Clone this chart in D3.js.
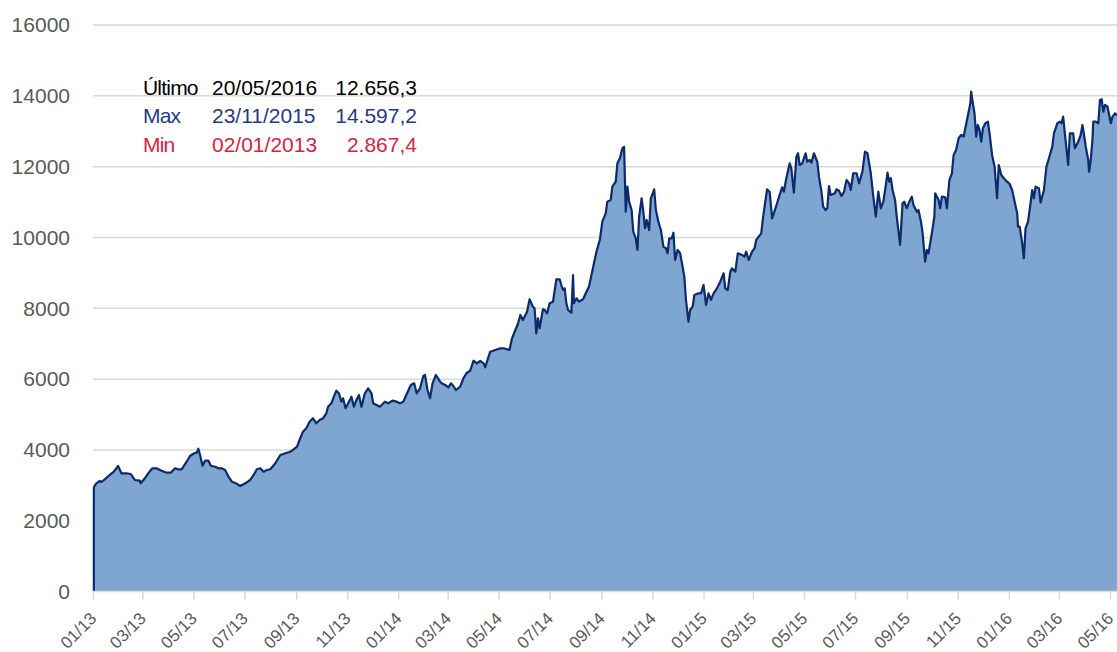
<!DOCTYPE html>
<html>
<head>
<meta charset="utf-8">
<script src="https://cdn.jsdelivr.net/npm/d3@7"></script>
<style>
    body { margin: 0; background: #fff; }
    svg { display: block; font-family: "Liberation Sans", Arial, sans-serif; }
</style>
</head>
<body>
<script>

// days counted from 01/01/2013
var dayOffsets = [
    1, 4, 8, 10, 14, 20, 25, 30, 34, 40,
    45, 50, 56, 57, 62, 66, 71, 76, 82, 88,
    93, 98, 102, 106, 112, 116, 121, 124, 126, 128,
    131, 134, 138, 141, 146, 150, 154, 158, 162, 166,
    171, 176, 182, 188, 192, 196, 200, 204, 208, 212,
    218, 224, 230, 236, 239, 244, 247, 251, 255, 259,
    263, 267, 271, 275, 279, 281, 285, 288, 291, 294,
    297, 299, 302, 306, 309, 312, 315, 318, 321, 325,
    329, 333, 335, 339, 343, 349, 353, 358, 363, 367,
    371, 375, 380, 384, 387, 391, 395, 397, 400, 403,
    406, 410, 415,
    417, 421, 425, 428, 431, 434, 439, 443, 447, 451,
    455, 459, 463, 467, 469, 471, 475, 481, 487, 491,
    495, 498, 501, 505, 508, 511, 514, 519, 522, 526,
    528, 530, 532, 534, 538, 540, 543, 546, 550, 554,
    558, 560, 562, 564, 566, 568, 572, 574, 575, 578,
    581, 586, 590, 593, 596, 599, 602,
    606, 609, 613, 615, 619, 621, 625, 627, 630, 633,
    635, 637, 639, 641, 644, 646, 649, 651, 653, 656,
    658, 660, 662, 665, 667, 671, 673, 676, 679, 682,
    685, 687, 689, 692, 694, 696, 699, 702, 705, 707,
    709, 712, 714, 717, 719, 724, 727, 730, 733, 736,
    739, 742, 746, 750, 754, 756, 759, 762, 764, 768,
    771, 776, 779, 781, 784, 788, 791, 793, 796, 799,
    801, 803, 806, 809, 812, 816, 821, 824, 826, 829,
    833, 835, 838, 841, 843, 845, 848, 852, 854, 857,
    859, 862, 866, 868, 871, 873, 876, 878, 880, 882,
    887, 889, 892, 895, 898, 901, 904, 906, 909, 913,
    916, 920, 923, 926, 928, 930, 933, 936, 939, 942,
    945, 948, 950, 952, 954, 956, 959, 961, 965, 968,
    970, 973, 976, 979, 981, 985, 987, 990, 992, 994,
    995, 997, 999, 1003, 1006, 1007, 1011, 1013, 1015, 1019,
    1021, 1024, 1027, 1029, 1032, 1035, 1038, 1041, 1043, 1047,
    1049, 1050, 1052, 1054, 1056, 1058, 1060, 1062, 1064, 1067,
    1070, 1072, 1075, 1078, 1081, 1083, 1086, 1089, 1093, 1096,
    1099, 1102, 1105, 1106, 1108, 1111, 1113, 1115, 1118, 1121,
    1123, 1125, 1127, 1131, 1133, 1137, 1140, 1143, 1147, 1149,
    1153, 1156, 1158, 1160, 1162, 1166, 1168, 1172, 1174, 1178,
    1181, 1183, 1185, 1187, 1190, 1191, 1193, 1195, 1196, 1199,
    1202, 1204, 1206, 1208, 1210, 1213, 1215, 1217, 1219, 1222,
    1224, 1235
];

var values = [
    2950, 3058, 3123, 3095, 3171, 3293, 3386, 3547, 3341, 3341,
    3321, 3152, 3132, 3058, 3200, 3341, 3482, 3482, 3414, 3358,
    3358, 3482, 3454, 3454, 3668, 3829, 3906, 3923, 4035, 3858,
    3555, 3697, 3697, 3555, 3527, 3482, 3482, 3434, 3245, 3104,
    3058, 2982, 3058, 3152, 3293, 3454, 3482, 3386, 3434, 3454,
    3623, 3858, 3906, 3951, 3999, 4092, 4281, 4516, 4612, 4798,
    4894, 4753, 4846, 4894, 5035, 5222, 5318, 5504, 5673, 5600,
    5363, 5459, 5176, 5363, 5504, 5222, 5411, 5552, 5222, 5600,
    5741, 5600, 5318, 5270, 5222, 5363, 5318, 5391, 5363, 5318,
    5363, 5572, 5834, 5882, 5600, 5741, 6089, 6117, 5693, 5459,
    5882, 6117, 5928,
    5882, 5834, 5769, 5882, 5806, 5693, 5786, 6024, 6182, 6238,
    6521, 6447, 6512, 6447, 6334, 6492, 6775, 6823, 6871, 6871,
    6843, 6823, 7153, 7388, 7557, 7811, 7670, 7904, 8255, 8046,
    8000, 7294, 7718, 7436, 7972, 7952, 7859, 8142, 8187, 8819,
    8819, 8658, 8517, 8565, 8142, 7952, 7876, 8941, 8142, 8283,
    8187, 8255, 8469, 8610, 8941, 9271, 9599,
    9929, 10446, 10683, 11011, 11059, 11434, 11576, 12095, 12236, 12519,
    12564, 10728, 11434, 11011, 10776, 10164, 9977, 9647, 10587, 11107,
    10728, 10260, 10494, 10212, 11107, 11361, 10776, 10446, 10212, 9740,
    9695, 9554, 9977, 9977, 10135, 9364, 9647, 9554, 9175, 8893,
    8235, 7622, 7952, 8046, 8376, 8424, 8424, 8658, 8094, 8424,
    8235, 8424, 8565, 8752, 8989, 8565, 8517, 9034, 9130, 9034,
    9554, 9506, 9458, 9599, 9364, 9599, 9695, 9929, 10022, 10118,
    10542, 10870, 11361, 11293, 10542, 10824, 11200, 11417, 11293, 11672,
    12095, 11954, 11265, 12282, 12378, 12047, 12095, 12378, 12140, 12188,
    12112, 12378, 12140, 11717, 11293, 10870, 10776, 10824, 11454, 11200,
    11248, 11361, 11321, 11172, 11293, 11624, 11530, 11341, 11813, 11813,
    11530, 11858, 12423, 12378, 12095, 11813, 11152, 10587, 11293, 10824,
    11011, 11482, 11830, 11576, 11672, 11341, 11059, 10587, 9788, 10966,
    11011, 10824, 11011, 11152, 10918, 10728, 10776, 10446, 10118, 9554,
    9316, 9647, 9554, 10118, 10587, 11248, 11059, 10824, 11152, 11135,
    10824, 11624, 11813, 12330, 12471, 12801, 12894, 12846, 13084, 13552,
    13790, 14117, 13790, 13507, 12846, 13177, 13036, 12705, 13084, 13225,
    13270, 12942, 12330, 11999, 11107, 12047, 11765, 11672, 11576, 11511,
    11341, 11011, 10683, 10305, 10305, 9836, 9413, 10260, 10446, 10966,
    11341, 11107, 11434, 11389, 10983, 11341, 11999, 12236, 12564, 12942,
    13225, 13270, 13225, 13411, 12942, 12047, 12942, 12942, 12519, 12705,
    12894, 13177, 12894, 12564, 12188, 11858, 12188, 12753, 13270, 13270,
    13225, 13883, 13903, 13552, 13742, 13694, 13459, 13225, 13411, 13507,
    13459, 13400
];

var yTicks = [0, 2000, 4000, 6000, 8000, 10000, 12000, 14000, 16000];

// summary box: label, date, value
var summaryLabels = ["Último", "Max", "Min"];
var summaryDates = ["20/05/2016", "23/11/2015", "02/01/2013"];
var summaryValues = ["12.656,3", "14.597,2", "2.867,4"];

var width = 1117, height = 652;
var startDate = new Date(2013, 0, 1);

var data = dayOffsets.map(function(d, i) {
    return {date: d3.timeDay.offset(startDate, d), value: values[i]};
});

var svg = d3.select("body").append("svg")
    .attr("width", width)
    .attr("height", height);

// 01/13 sits at x=93, 05/16 at x=1110; the last days run past the right edge
var xScale = d3.scaleTime()
    .domain([startDate, new Date(2016, 4, 1)])
    .range([93, 1110]);

var yScale = d3.scaleLinear()
    .domain([0, 16000])
    .range([591.6, 25]);

// gridlines
svg.append("g")
    .selectAll("line")
    .data(yTicks.filter(function(d) { return d > 0; }))
    .enter().append("line")
    .attr("x1", 93)
    .attr("x2", width)
    .attr("y1", function(d) { return yScale(d); })
    .attr("y2", function(d) { return yScale(d); })
    .attr("stroke", "#d9d9d9")
    .attr("stroke-width", 1.5);

var area = d3.area()
    .x(function(d) { return xScale(d.date); })
    .y0(yScale(0))
    .y1(function(d) { return yScale(d.value); });

var line = d3.line()
    .x(function(d) { return xScale(d.date); })
    .y(function(d) { return yScale(d.value); });

svg.append("path")
    .datum(data)
    .attr("d", area)
    .attr("fill", "#7fa6d1");

// left edge of the area is outlined too
svg.append("line")
    .attr("x1", xScale(data[0].date))
    .attr("x2", xScale(data[0].date))
    .attr("y1", yScale(0))
    .attr("y2", yScale(data[0].value))
    .attr("stroke", "#0c2a6e")
    .attr("stroke-width", 2.2);

svg.append("path")
    .datum(data)
    .attr("d", line)
    .attr("fill", "none")
    .attr("stroke", "#0c2a6e")
    .attr("stroke-width", 2.2)
    .attr("stroke-linejoin", "round");

// x axis
var xAxis = d3.axisBottom(xScale)
    .ticks(d3.timeMonth.every(2))
    .tickFormat(d3.timeFormat("%m/%y"))
    .tickSizeInner(8)
    .tickSizeOuter(0);

var gx = svg.append("g")
    .attr("transform", "translate(0," + yScale(0) + ")")
    .call(xAxis);

gx.select(".domain")
    .attr("d", "M93,0H" + width)
    .attr("stroke", "#d9d9d9")
    .attr("stroke-width", 1.5);
gx.selectAll(".tick line")
    .attr("stroke", "#d9d9d9")
    .attr("stroke-width", 1.5);
gx.selectAll(".tick text")
    .attr("fill", "#595959")
    .style("font-size", "17px")
    .attr("text-anchor", "end")
    .attr("y", 0)
    .attr("dy", 0)
    .attr("transform", "translate(4,28) rotate(-45)");

// y axis labels
svg.append("g")
    .selectAll("text")
    .data(yTicks)
    .enter().append("text")
    .attr("x", 70)
    .attr("y", function(d) { return yScale(d); })
    .attr("dy", "0.35em")
    .attr("text-anchor", "end")
    .attr("fill", "#595959")
    .style("font-size", "21px")
    .text(function(d) { return d; });

// summary box
var summaryColors = ["#000000", "#1f3a8a", "#e0203c"];

var rows = svg.append("g")
    .selectAll("g")
    .data(summaryLabels)
    .enter().append("g")
    .attr("transform", function(d, i) { return "translate(0," + (95 + i * 28.4) + ")"; })
    .attr("fill", function(d, i) { return summaryColors[i]; })
    .style("font-size", "21px");

rows.append("text")
    .attr("x", 143)
    .style("letter-spacing", "-0.8px")
    .text(function(d) { return d; });

rows.append("text")
    .attr("x", 212)
    .text(function(d, i) { return summaryDates[i]; });

rows.append("text")
    .attr("x", 417)
    .attr("text-anchor", "end")
    .text(function(d, i) { return summaryValues[i]; });

</script>
</body>
</html>
